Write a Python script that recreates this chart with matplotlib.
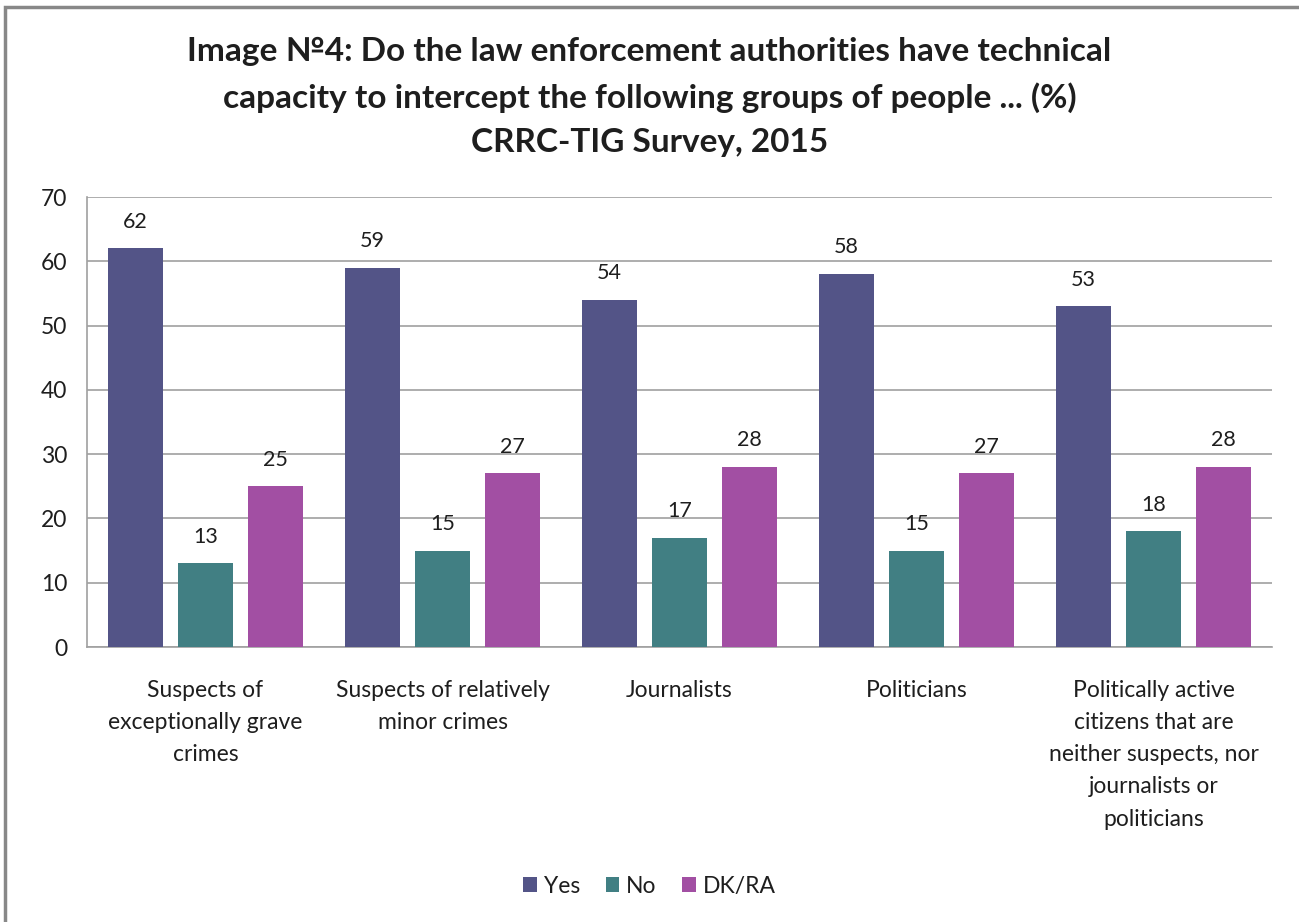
import numpy as np
import matplotlib
matplotlib.use('Agg')
import matplotlib.pyplot as plt
from matplotlib.patches import Rectangle

plt.rcParams['font.family'] = ['Lato', 'DejaVu Sans']
plt.rcParams['text.color'] = '#1e1e1e'

categories = ['Suspects of\nexceptionally grave\ncrimes',
              'Suspects of relatively\nminor crimes',
              'Journalists',
              'Politicians',
              'Politically active\ncitizens that are\nneither suspects, nor\njournalists or\npoliticians']
yes = [62, 59, 54, 58, 53]
no = [13, 15, 17, 15, 18]
dkra = [25, 27, 28, 27, 28]
series = [('Yes', yes, '#535487'), ('No', no, '#417f83'), ('DK/RA', dkra, '#a24fa3')]

fig = plt.figure(figsize=(12.99, 9.22), dpi=100)
ax = fig.add_axes([87/1299, 1 - 647/922, (1272-87)/1299, (647-197)/922])

x = np.arange(len(categories))
step = 0.295
width = 0.232
for i, (name, vals, col) in enumerate(series):
    pos = x + (i - 1) * step
    ax.bar(pos, vals, width, color=col, label=name, zorder=3)
    for p, v in zip(pos, vals):
        ax.text(p, v + 2.6, str(v), ha='center', va='bottom', fontsize=15.5, color='#1e1e1e')

ax.set_xlim(-0.5, len(categories) - 0.5)
ax.set_ylim(0, 70)
ax.set_yticks(range(0, 71, 10))
ax.yaxis.grid(True, color='#a0a0a0', linewidth=1.2, zorder=0)
ax.set_xticks(x)
ax.set_xticklabels(categories, fontsize=16.5, linespacing=1.65, va='top', color='#1e1e1e')
ax.tick_params(axis='x', length=0, pad=24)
ax.tick_params(axis='y', length=0, labelsize=16.5, pad=14, labelcolor='#1e1e1e')
for s in ['top', 'right']:
    ax.spines[s].set_visible(False)
ax.spines['left'].set_color('#a0a0a0')
ax.spines['bottom'].set_color('#a0a0a0')
ax.spines['left'].set_linewidth(1.2)
ax.spines['bottom'].set_linewidth(1.2)

fig.text(0.5, 1 - 37/922, 'Image №4: Do the law enforcement authorities have technical\n'
         'capacity to intercept the following groups of people ... (%)\nCRRC-TIG Survey, 2015',
         ha='center', va='top', fontsize=24, fontweight='bold', linespacing=1.62)

handles, labels = ax.get_legend_handles_labels()
fig.legend(handles, labels, loc='center', bbox_to_anchor=(0.5, 1 - 886/922), ncol=3,
           frameon=False, fontsize=16.5, handlelength=0.6, handleheight=0.6,
           handletextpad=0.3, columnspacing=1.1)

fig.patches.append(Rectangle((5/1299, -0.1), 1.2, 1 - 7/922 + 0.1, transform=fig.transFigure,
                             fill=False, edgecolor='#888888', linewidth=2.5, clip_on=False))

fig.savefig('out.png', dpi=100)
